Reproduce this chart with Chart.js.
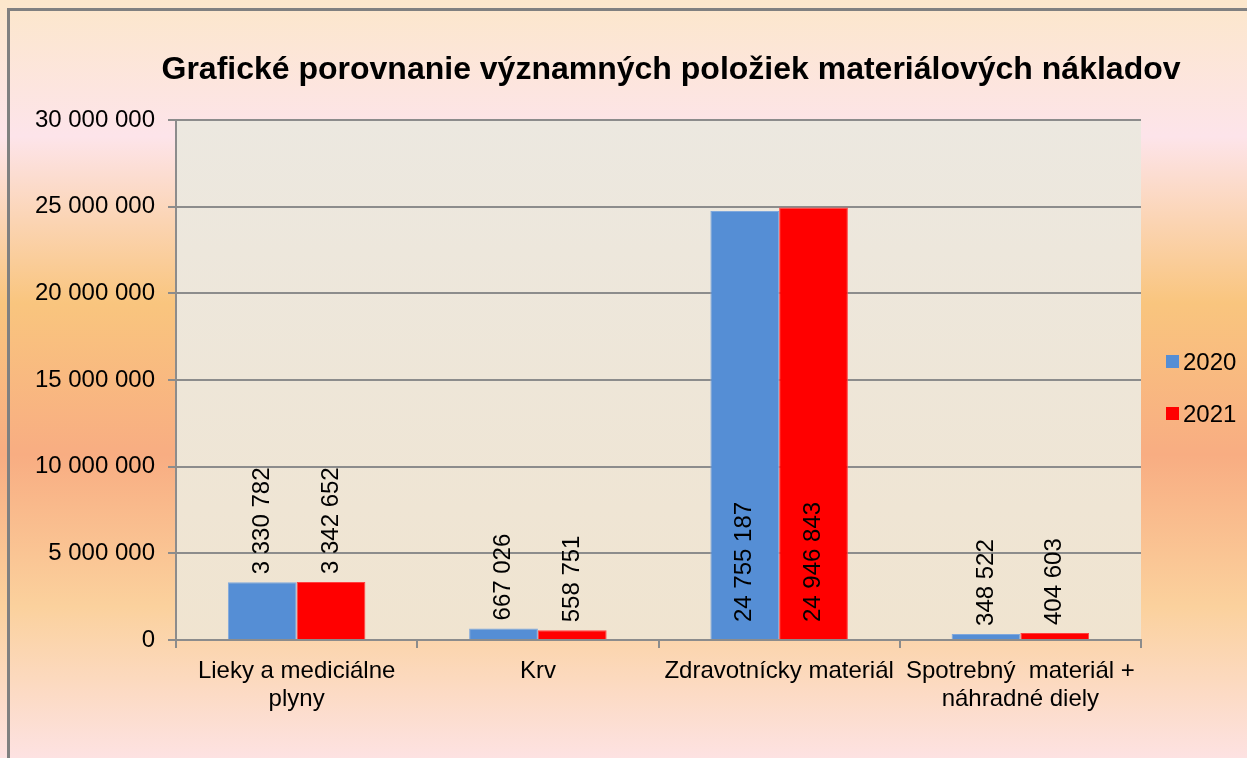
<!DOCTYPE html>
<html>
<head>
<meta charset="utf-8">
<title>Grafické porovnanie</title>
<script src="https://cdn.jsdelivr.net/npm/chart.js@4/dist/chart.umd.min.js"></script>
<style>
    html, body { margin: 0; padding: 0; background: #ffffff; }
    #wrap { width: 1247px; height: 758px; }
</style>
</head>
<body>
<div id="wrap"><canvas id="costChart" width="1247" height="758"></canvas></div>
<script>
const chartTitle = 'Grafické porovnanie významných položiek materiálových nákladov';
const categories = [
    ['Lieky a mediciálne', 'plyny'],
    'Krv',
    'Zdravotnícky materiál',
    ['Spotrebný  materiál +', 'náhradné diely']
];
const years = ['2020', '2021'];
const values2020 = [3330782, 667026, 24755187, 348522];
const values2021 = [3342652, 558751, 24946843, 404603];
const yTicks = [0, 5000000, 10000000, 15000000, 20000000, 25000000, 30000000];

const FONT = '"Liberation Sans", Arial, sans-serif';
const GRID = '#8c8c8c';

function formatNum(v) {
    return String(v).replace(/\B(?=(\d{3})+(?!\d))/g, ' ');
}

// page background, frame, title and plot area fill
const backgroundPlugin = {
    id: 'background',
    beforeDraw(chart) {
        const ctx = chart.ctx;
        const h = chart.height;
        const g = ctx.createLinearGradient(0, 0, 0, h);
        g.addColorStop(0.0, '#fce7cb');
        g.addColorStop(0.18, '#fde4ea');
        g.addColorStop(0.40, '#f9c57e');
        g.addColorStop(0.60, '#f8ad82');
        g.addColorStop(0.80, '#fbd19d');
        g.addColorStop(1.0, '#fde2e2');
        ctx.save();
        ctx.fillStyle = g;
        ctx.fillRect(0, 0, chart.width, h);
        ctx.fillStyle = '#808080';
        ctx.fillRect(7, 8, chart.width, 3);
        ctx.fillRect(7, 8, 3, h);

        const a = chart.chartArea;
        const pg = ctx.createLinearGradient(0, a.top, 0, a.bottom);
        pg.addColorStop(0, '#ece8e0');
        pg.addColorStop(1, '#f0e4d0');
        ctx.fillStyle = pg;
        ctx.fillRect(a.left, a.top, a.right - a.left, a.bottom - a.top);

        ctx.fillStyle = '#000000';
        ctx.font = 'bold 32px ' + FONT;
        ctx.textAlign = 'center';
        ctx.textBaseline = 'middle';
        ctx.fillText(chartTitle, 671, 70);
        ctx.restore();
    }
};

// rotated value labels and the legend on the right
const labelPlugin = {
    id: 'valueLabels',
    afterDatasetsDraw(chart) {
        const ctx = chart.ctx;
        ctx.save();
        ctx.font = '24px ' + FONT;
        ctx.fillStyle = '#000000';
        ctx.textBaseline = 'middle';
        chart.data.datasets.forEach((ds, di) => {
            const meta = chart.getDatasetMeta(di);
            meta.data.forEach((bar, i) => {
                const text = formatNum(ds.data[i]);
                const w = ctx.measureText(text).width;
                const barH = bar.base - bar.y;
                ctx.save();
                ctx.translate(bar.x, 0);
                ctx.rotate(-Math.PI / 2);
                ctx.textAlign = 'left';
                if (barH > w + 40) {
                    ctx.fillText(text, -(bar.base - 17), 0);
                } else {
                    ctx.fillText(text, -(bar.y - 8), 0);
                }
                ctx.restore();
            });
        });

        // legend
        ctx.textAlign = 'left';
        chart.data.datasets.forEach((ds, di) => {
            const y = 362 + di * 52;
            ctx.fillStyle = ds.backgroundColor;
            ctx.fillRect(1166, y - 7, 13, 13);
            ctx.fillStyle = '#000000';
            ctx.fillText(ds.label, 1183, y + 1);
        });
        ctx.restore();
    }
};

const ctx = document.getElementById('costChart').getContext('2d');
new Chart(ctx, {
    type: 'bar',
    data: {
        labels: categories,
        datasets: [
            {
                label: years[0],
                data: values2020,
                backgroundColor: '#558ed5',
                borderColor: '#7fa8dd',
                borderWidth: 1,
                categoryPercentage: 0.57,
                barPercentage: 1.0
            },
            {
                label: years[1],
                data: values2021,
                backgroundColor: '#ff0000',
                borderColor: '#ff4040',
                borderWidth: 1,
                categoryPercentage: 0.57,
                barPercentage: 1.0
            }
        ]
    },
    options: {
        responsive: false,
        animation: false,
        layout: {
            padding: { left: 20, right: 106, top: 120, bottom: 10 }
        },
        plugins: {
            legend: { display: false },
            tooltip: { enabled: false },
            title: { display: false }
        },
        scales: {
            x: {
                grid: {
                    display: true,
                    drawOnChartArea: false,
                    drawTicks: true,
                    tickLength: 8,
                    color: GRID,
                    lineWidth: 2
                },
                border: { color: GRID, width: 2 },
                ticks: {
                    color: '#000000',
                    font: { family: FONT, size: 24, lineHeight: 1.15 },
                    padding: 10,
                    maxRotation: 0,
                    autoSkip: false
                },
                afterFit(scale) { scale.height = 108; }
            },
            y: {
                min: 0,
                max: 30000000,
                afterBuildTicks(scale) {
                    scale.ticks = yTicks.map(v => ({ value: v }));
                },
                grid: {
                    color: GRID,
                    lineWidth: 2,
                    drawTicks: true,
                    tickLength: 8
                },
                border: { color: GRID, width: 2 },
                ticks: {
                    color: '#000000',
                    font: { family: FONT, size: 24 },
                    padding: 13,
                    callback: v => formatNum(v)
                },
                afterFit(scale) { scale.width = 156; }
            }
        }
    },
    plugins: [backgroundPlugin, labelPlugin]
});
</script>
</body>
</html>
